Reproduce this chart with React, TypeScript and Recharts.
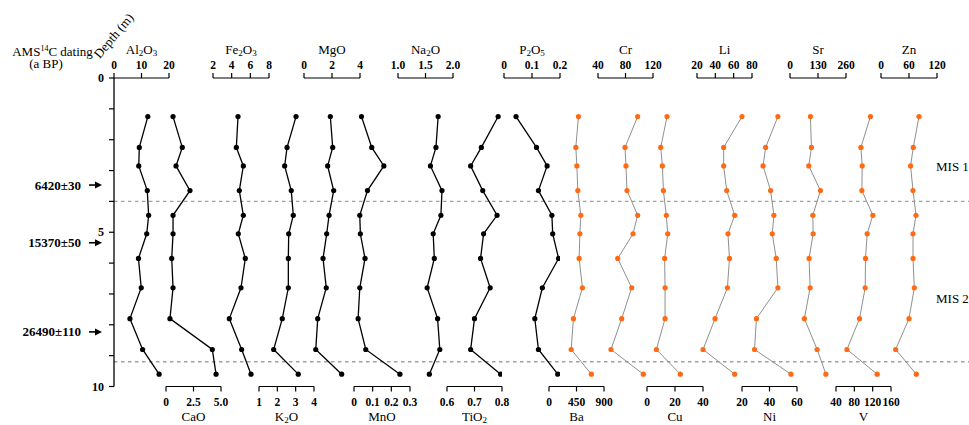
import React from 'react';
import { LineChart, Line, XAxis, YAxis, ReferenceLine } from 'recharts';

const FONT = "'Liberation Serif', 'Times New Roman', serif";

// sample depths (m), shared by every profile
const depths = [1.25, 2.25, 2.85, 3.65, 4.45, 5.05, 5.85, 6.8, 7.8, 8.8, 9.6];

// major oxides (%)
const al2o3 = [12.3, 9.2, 9.0, 12.1, 12.6, 11.9, 8.9, 9.9, 5.8, 10.4, 16.4];
const cao = [0.64, 1.48, 0.91, 2.18, 0.64, 0.64, 0.52, 0.64, 0.36, 4.21, 4.55];
const fe2o3 = [4.68, 4.5, 5.25, 4.82, 5.25, 4.71, 5.46, 5.0, 3.75, 5.07, 6.07];
const k2o = [3.02, 2.53, 2.4, 2.76, 2.87, 2.62, 2.6, 2.6, 2.27, 1.8, 3.14];
const mgo = [1.88, 2.05, 1.69, 2.12, 1.79, 1.62, 1.36, 1.59, 0.98, 0.84, 2.69];
const mno = [0.04, 0.095, 0.16, 0.072, 0.031, 0.034, 0.059, 0.031, 0.022, 0.063, 0.246];
const na2o = [1.73, 1.69, 1.59, 1.8, 1.78, 1.64, 1.66, 1.53, 1.72, 1.76, 1.57];
const tio2 = [0.786, 0.725, 0.686, 0.73, 0.782, 0.733, 0.722, 0.757, 0.7, 0.686, 0.795];
const p2o5 = [0.043, 0.116, 0.154, 0.123, 0.171, 0.174, 0.195, 0.137, 0.11, 0.123, 0.192];

// trace elements (ppm)
const ba = [482, 439, 456, 472, 521, 505, 493, 547, 400, 363, 693];
const cr = [97.7, 79.3, 80.7, 82.2, 97.7, 90.9, 68.7, 89.0, 74.5, 58.9, 105.9];
const cu = [14.3, 9.8, 11.0, 11.7, 13.8, 14.8, 12.6, 12.9, 12.9, 6.7, 23.8];
const li = [69.1, 49.1, 49.1, 52.4, 61.1, 53.8, 55.4, 53.2, 39.7, 26.6, 61.1];
const ni = [46.1, 37.2, 35.3, 40.8, 43.2, 42.0, 44.9, 46.1, 30.5, 29.1, 55.6];
const sr = [94.8, 99.4, 87.2, 141.4, 105.9, 107.3, 88.6, 93.4, 66.8, 126.1, 166.7];
const v = [115.1, 94.3, 97.2, 96.5, 120.4, 108.0, 104.4, 103.7, 91.3, 63.9, 129.7];
const zn = [81.4, 69.2, 63.4, 68.6, 75.0, 68.6, 68.6, 71.4, 60.0, 31.4, 75.7];

// depth axis + annotations
const depthTicks = [0, 1, 2, 3, 4, 5, 6, 7, 8, 9, 10];
const datingDepths = [3.47, 5.34, 8.23];
const datingLabels = ['6420±30', '15370±50', '26490±110'];
const boundaryDepths = [4.0, 9.2];
const misLabels = ['MIS 1', 'MIS 2'];

// panel setup: title (_n = subscript), values, ticks, tick labels, axis pixel span, side, colour
const panels = [
  { title: 'Al_2O_3', values: al2o3, ticks: [0, 10, 20], labels: ['0', '10', '20'], x0: 114, x1: 169, side: 'top', orange: false },
  { title: 'CaO', values: cao, ticks: [0, 2.5, 5], labels: ['0', '2.5', '5.0'], x0: 166, x1: 221, side: 'bottom', orange: false },
  { title: 'Fe_2O_3', values: fe2o3, ticks: [2, 4, 6, 8], labels: ['2', '4', '6', '8'], x0: 213, x1: 269, side: 'top', orange: false },
  { title: 'K_2O', values: k2o, ticks: [1, 2, 3, 4], labels: ['1', '2', '3', '4'], x0: 259, x1: 314, side: 'bottom', orange: false },
  { title: 'MgO', values: mgo, ticks: [0, 2, 4], labels: ['0', '2', '4'], x0: 304, x1: 360, side: 'top', orange: false },
  { title: 'MnO', values: mno, ticks: [0, 0.1, 0.2, 0.3], labels: ['0', '0.1', '0.2', '0.3'], x0: 354, x1: 410, side: 'bottom', orange: false },
  { title: 'Na_2O', values: na2o, ticks: [1, 1.5, 2], labels: ['1.0', '1.5', '2.0'], x0: 398, x1: 453, side: 'top', orange: false },
  { title: 'TiO_2', values: tio2, ticks: [0.6, 0.7, 0.8], labels: ['0.6', '0.7', '0.8'], x0: 447, x1: 502, side: 'bottom', orange: false },
  { title: 'P_2O_5', values: p2o5, ticks: [0, 0.1, 0.2], labels: ['0', '0.1', '0.2'], x0: 504, x1: 560, side: 'top', orange: false },
  { title: 'Ba', values: ba, ticks: [0, 450, 900], labels: ['0', '450', '900'], x0: 549, x1: 604, side: 'bottom', orange: true },
  { title: 'Cr', values: cr, ticks: [40, 80, 120], labels: ['40', '80', '120'], x0: 598, x1: 653, side: 'top', orange: true },
  { title: 'Cu', values: cu, ticks: [0, 20, 40], labels: ['0', '20', '40'], x0: 647, x1: 703, side: 'bottom', orange: true },
  { title: 'Li', values: li, ticks: [20, 40, 60, 80], labels: ['20', '40', '60', '80'], x0: 697, x1: 752, side: 'top', orange: true },
  { title: 'Ni', values: ni, ticks: [20, 40, 60], labels: ['20', '40', '60'], x0: 742, x1: 797, side: 'bottom', orange: true },
  { title: 'Sr', values: sr, ticks: [0, 130, 260], labels: ['0', '130', '260'], x0: 790, x1: 846, side: 'top', orange: true },
  { title: 'V', values: v, ticks: [40, 80, 120, 160], labels: ['40', '80', '120', '160'], x0: 836, x1: 891, side: 'bottom', orange: true },
  { title: 'Zn', values: zn, ticks: [0, 60, 120], labels: ['0', '60', '120'], x0: 881, x1: 937, side: 'top', orange: true },
];

const W = 969;
const H = 425;
const PLOT_TOP = 78;
const PLOT_BOTTOM = 386.5;
const AXIS_H = 30;
const PAD = 20;
const AXIS_X = 114;

const tickStyle = { fill: '#000', fontSize: 11.5, fontWeight: 'bold', fontFamily: FONT };

const Title = ({ text, cx, cy }: { text: string; cx: number; cy: number }) => {
  const parts = text.split(/_(\d)/);
  return (
    <div
      style={{
        position: 'absolute', left: cx - 50, top: cy - 9, width: 100, textAlign: 'center',
        fontFamily: FONT, fontSize: 13, lineHeight: '16px', color: '#000', whiteSpace: 'nowrap',
      }}
    >
      {parts.map((s, i) =>
        i % 2 ? (
          <span key={i} style={{ fontSize: 9, position: 'relative', top: 2 }}>{s}</span>
        ) : (
          <span key={i}>{s}</span>
        )
      )}
    </div>
  );
};

const Profile = ({ p }: { p: any }) => {
  const data = depths.map((d, i) => ({ depth: d, value: p.values[i] }));
  const isTop = p.side === 'top';
  const margin = isTop
    ? { top: PLOT_TOP - AXIS_H, bottom: H - PLOT_BOTTOM, left: PAD, right: PAD }
    : { top: PLOT_TOP, bottom: H - PLOT_BOTTOM - AXIS_H, left: PAD, right: PAD };
  const lineColor = p.orange ? '#8f8f8f' : '#000';
  const dotColor = p.orange ? '#ff6a13' : '#000';
  return (
    <>
      <div style={{ position: 'absolute', left: p.x0 - PAD, top: 0 }}>
        <LineChart width={p.x1 - p.x0 + PAD * 2} height={H} data={data} layout="vertical" margin={margin}>
          <XAxis
            type="number"
            dataKey="value"
            orientation={p.side}
            domain={[p.ticks[0], p.ticks[p.ticks.length - 1]]}
            allowDataOverflow
            ticks={p.ticks}
            interval={0}
            height={AXIS_H}
            tickSize={5}
            tickMargin={isTop ? 4 : 6}
            axisLine={{ stroke: '#000', strokeWidth: 1.2 }}
            tickLine={{ stroke: '#000', strokeWidth: 1.2 }}
            tick={tickStyle}
            tickFormatter={(val: number) => p.labels[p.ticks.indexOf(val)] ?? String(val)}
          />
          <YAxis type="number" dataKey="depth" domain={[0, 10]} hide />
          <Line
            dataKey="value"
            stroke={lineColor}
            strokeWidth={p.orange ? 1 : 1.3}
            dot={{ r: 2.6, fill: dotColor, stroke: 'none' }}
            activeDot={false}
            isAnimationActive={false}
          />
        </LineChart>
      </div>
      <Title text={p.title} cx={(p.x0 + p.x1) / 2} cy={isTop ? 51 : 418} />
    </>
  );
};

// one tick renderer for the depth axis: metre ticks and the dating arrows
const DepthTick = (props: any) => {
  const { y, payload } = props;
  const val = payload.value;
  const di = datingDepths.indexOf(val);
  if (di >= 0) {
    return (
      <g>
        <text x={81} y={y} dy={4.5} textAnchor="end" fontFamily={FONT} fontSize={13} fontWeight="bold" fill="#000">
          {datingLabels[di]}
        </text>
        <line x1={89} y1={y} x2={97} y2={y} stroke="#000" strokeWidth={1.6} />
        <polygon points={`95,${y - 3.5} 102,${y} 95,${y + 3.5}`} fill="#000" />
      </g>
    );
  }
  return (
    <g>
      <line x1={AXIS_X - 5} y1={y} x2={AXIS_X} y2={y} stroke="#000" strokeWidth={1.2} />
      {val % 5 === 0 && (
        <text x={AXIS_X - 10} y={y} dy={4} textAnchor="end" fontFamily={FONT} fontSize={12} fontWeight="bold" fill="#000">
          {val}
        </text>
      )}
    </g>
  );
};

const datingRows = datingDepths.map((d, i) => ({ depth: d, label: datingLabels[i] }));
const axisTicks = [...depthTicks, ...datingDepths].sort((a, b) => a - b);

const App = () => {
  return (
    <div style={{ position: 'absolute', left: 0, top: 0, width: W, height: H, background: '#fff', overflow: 'hidden' }}>
      <div style={{ position: 'absolute', left: 0, top: 0 }}>
        <LineChart width={W} height={H} data={datingRows} margin={{ top: PLOT_TOP, right: 0, bottom: H - PLOT_BOTTOM, left: 0 }}>
          <XAxis type="number" domain={[0, 1]} hide />
          <YAxis
            type="number"
            dataKey="depth"
            domain={[0, 10]}
            reversed
            ticks={axisTicks}
            interval={0}
            width={AXIS_X}
            tickLine={false}
            axisLine={{ stroke: '#000', strokeWidth: 1.3 }}
            tick={<DepthTick />}
          />
          {boundaryDepths.map((d) => (
            <ReferenceLine key={d} y={d} stroke="#a0a0a0" strokeWidth={1.4} strokeDasharray="3.5 3.5" />
          ))}
        </LineChart>
      </div>

      {panels.map((p) => (
        <Profile key={p.title} p={p} />
      ))}

      <div style={{ position: 'absolute', left: 0, top: 46, width: 105, textAlign: 'center', fontFamily: FONT, fontSize: 13, lineHeight: '11px' }}>
        AMS<span style={{ fontSize: 8, position: 'relative', top: -5 }}>14</span>C dating
      </div>
      <div style={{ position: 'absolute', left: 0, top: 58, width: 92, textAlign: 'center', fontFamily: FONT, fontSize: 13, lineHeight: '11px' }}>
        (a BP)
      </div>
      <div
        style={{
          position: 'absolute', left: 84, top: 28, width: 60, textAlign: 'center', fontFamily: FONT, fontSize: 13,
          lineHeight: '16px', transform: 'rotate(-50deg)', transformOrigin: '50% 50%', whiteSpace: 'nowrap',
        }}
      >
        Depth (m)
      </div>
      {misLabels.map((m, i) => (
        <div key={m} style={{ position: 'absolute', left: 936, top: i === 0 ? 159 : 291, fontFamily: FONT, fontSize: 13, lineHeight: '16px', whiteSpace: 'nowrap' }}>
          {m}
        </div>
      ))}
    </div>
  );
};

export default App;
